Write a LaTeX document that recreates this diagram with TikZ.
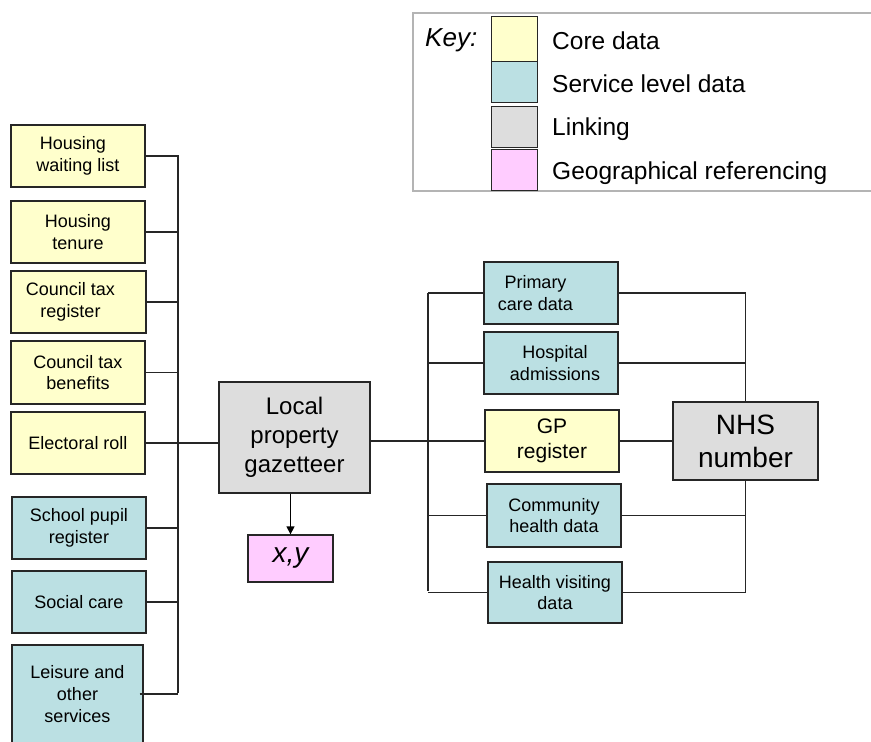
\documentclass[tikz,border=0pt]{standalone}
\usepackage{fontspec}
\setmainfont{Liberation Sans}
\usetikzlibrary{arrows.meta}
\definecolor{coreC}{HTML}{FFFFCC}
\definecolor{servC}{HTML}{BBE0E3}
\definecolor{linkC}{HTML}{DDDDDD}
\definecolor{geoC}{HTML}{FFCCFF}
\definecolor{edgeC}{HTML}{262626}
\definecolor{frameC}{HTML}{B4B4B4}
\begin{document}
\begin{tikzpicture}[x=1pt,y=-1pt,
  box/.style={draw=edgeC,line width=1.3pt,align=center,inner sep=0pt,
    font=\fontsize{18}{21.7}\selectfont},
  core/.style={box,fill=coreC},
  serv/.style={box,fill=servC},
  linkbox/.style={box,fill=linkC},
  geobox/.style={box,fill=geoC},
  sw/.style={draw=edgeC,line width=1pt,minimum width=46pt,inner sep=0pt},
  keytext/.style={anchor=west,inner sep=0pt,font=\fontsize{24.5}{28}\selectfont},
  conn/.style={draw=edgeC,line width=1.3pt}]
\useasboundingbox (0,0) rectangle (871,742);

% key
\draw[frameC,line width=1.5pt] (873,13) -- (413,13) -- (413,191) -- (873,191);
\node[keytext,font=\fontsize{26}{30}\selectfont\itshape] (keylbl) at (425,40) {Key:};
\node[sw,fill=coreC,minimum height=51pt] (kcore) at (514,41.5) {};
\node[sw,fill=servC,minimum height=41pt] (kserv) at (514,82) {};
\node[sw,fill=linkC,minimum height=41pt] (klink) at (514,126.5) {};
\node[sw,fill=geoC,minimum height=41pt] (kgeo) at (514,170) {};
\node[keytext] (tcore) at (552,41) {Core data};
\node[keytext] (tserv) at (552,84) {Service level data};
\node[keytext] (tlink) at (552,129) {Linking};
\node[keytext] (tgeo) at (552,173) {Geographical referencing};

% left column
\node[core,minimum width=134pt,minimum height=62pt] (hwl) at (78,156) {Housing\hspace*{10pt}\\waiting list};
\node[core,minimum width=134pt,minimum height=62pt] (ht) at (78,232) {Housing\\tenure};
\node[core,minimum width=135pt,minimum height=62pt] (ctr) at (78.5,302) {Council tax\hspace*{16pt}\\register\hspace*{16pt}};
\node[core,minimum width=134pt,minimum height=63pt] (ctb) at (78,372.5) {Council tax\\benefits};
\node[core,minimum width=134pt,minimum height=62pt] (er) at (78,443) {Electoral roll};
\node[serv,minimum width=134pt,minimum height=62pt] (spr) at (79,528) {School pupil\\register};
\node[serv,minimum width=134pt,minimum height=62pt] (sc) at (79,602) {Social care};
\node[serv,minimum width=131pt,minimum height=98pt] (lei) at (77.5,694) {Leisure and\\other\\services};

% centre
\node[linkbox,minimum width=151pt,minimum height=111pt,font=\fontsize{24}{29}\selectfont] (gaz) at (294.5,437.5) {Local\\property\\gazetteer};
\node[geobox,minimum width=85pt,minimum height=47pt,font=\fontsize{28}{30}\selectfont\itshape] (xy) at (290.5,558.5) {x,y};

% right column
\node[serv,minimum width=134pt,minimum height=62pt] (pcd) at (551,293) {Primary\hspace*{31pt}\\care data\hspace*{31pt}};
\node[serv,minimum width=134pt,minimum height=62pt] (ha) at (551,363) {\hspace*{8pt}Hospital\\\hspace*{8pt}admissions};
\node[core,minimum width=134pt,minimum height=62pt,font=\fontsize{21}{25}\selectfont] (gp) at (552,441) {GP\\register};
\node[serv,minimum width=134pt,minimum height=63pt] (chd) at (554,515.5) {Community\\health data};
\node[serv,minimum width=134pt,minimum height=61pt] (hvd) at (555,592.5) {Health visiting\\data};
\node[linkbox,minimum width=145pt,minimum height=78pt,font=\fontsize{28}{33}\selectfont] (nhs) at (745.5,441) {NHS\\number};

% left bus
\coordinate (lbt) at (178,155);
\coordinate (lbb) at (178,693);
\draw[conn] (lbt) -- (lbb);
\foreach \n in {hwl,ht,ctr,ctb,er,spr,sc}
  \draw[conn] (\n.east) -- (\n.east -| lbt);
\draw[conn] ([xshift=-4pt]lei.east) -- (lei.east -| lbt);
\draw[conn] (er.east -| lbt) -- (er.east -| gaz.west);

% right bus
\coordinate (rbt) at (428,293);
\coordinate (rbb) at (428,591);
\draw[conn] (rbt) -- (rbb);
\draw[conn] (gaz.east |- gp.west) -- (gp.west);
\foreach \n in {pcd,ha,chd,hvd}
  \draw[conn] (\n.west) -- (\n.west -| rbt);

% to NHS
\draw[conn] (pcd.east) -- (pcd.east -| nhs.north) -- (nhs.north);
\draw[conn] (ha.east) -- (ha.east -| nhs.north);
\draw[conn] (gp.east) -- (nhs.west);
\draw[conn] (nhs.south) -- (hvd.east -| nhs.south) -- (hvd.east);
\draw[conn] (chd.east) -- (chd.east -| nhs.south);

% arrow
\draw[black,line width=1.3pt,-{Triangle[length=8pt,width=8pt]}] (gaz.south -| xy.north) -- (xy.north);
\end{tikzpicture}
\end{document}
